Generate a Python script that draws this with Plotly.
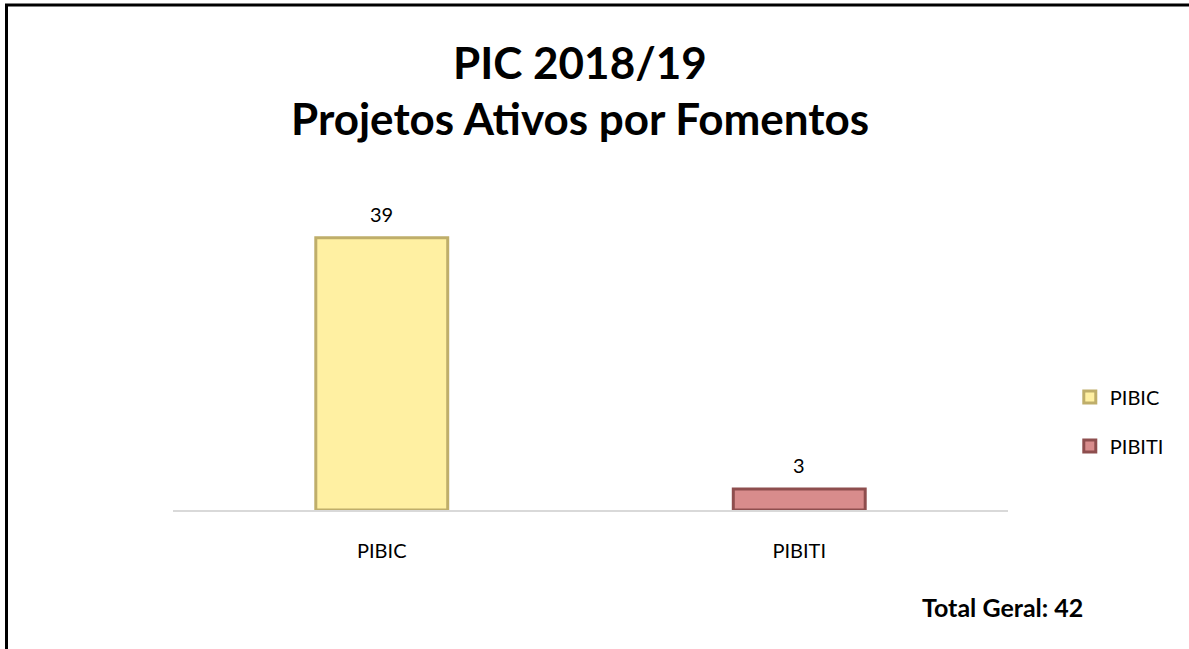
import plotly.graph_objects as go

categories = ["PIBIC", "PIBITI"]
values = [39, 3]
fill_colors = ["#FFF0A2", "#D88C8C"]
edge_colors = ["#BFAE6A", "#8E4E4E"]
total_label = "Total Geral: 42"
title_lines = ["PIC 2018/19", "Projetos Ativos por Fomentos"]

FONT = "Lato, Open Sans, sans-serif"

fig = go.Figure()
for i, (cat, val) in enumerate(zip(categories, values)):
    fig.add_trace(go.Bar(
        x=[cat], y=[val], name=cat, width=0.316,
        marker=dict(color=fill_colors[i], line=dict(color=edge_colors[i], width=3)),
        legendgroup=cat, cliponaxis=False,
    ))

annotations = []
for cat, val in zip(categories, values):
    annotations.append(dict(text=str(val), x=cat, y=val, xref="x", yref="y",
                            xanchor="center", yanchor="bottom", yshift=10, showarrow=False,
                            font=dict(size=20, color="#000000", family=FONT)))

for txt, ypos in zip(title_lines, [1.427, 1.250]):
    annotations.append(dict(text="<b>" + txt + "</b>", xref="paper", yref="paper",
                            x=0.487, y=ypos, xanchor="center", yanchor="middle",
                            showarrow=False,
                            font=dict(size=44, color="#000000", family=FONT)))

annotations.append(dict(text="<b>" + total_label + "</b>", xref="paper", yref="paper",
                        x=1.092, y=-0.309, xanchor="right", yanchor="middle", showarrow=False,
                        font=dict(size=25, color="#000000", family=FONT)))

fig.update_layout(
    width=1189, height=649,
    barmode="overlay",
    paper_bgcolor="white", plot_bgcolor="white",
    margin=dict(l=173, r=181, t=196, b=139),
    showlegend=True,
    legend=dict(x=1.074, y=0.282, xanchor="left", yanchor="middle",
                font=dict(size=20, color="#000000", family=FONT),
                tracegroupgap=20, itemwidth=30, bgcolor="rgba(0,0,0,0)"),
    xaxis=dict(range=[-0.5, 1.5], showline=True, linecolor="#D9D9D9", linewidth=2,
               ticks="", ticklabelstandoff=22,
               tickfont=dict(size=20, color="#000000", family=FONT),
               showgrid=False, zeroline=False),
    yaxis=dict(range=[0, 45], visible=False, showgrid=False, zeroline=False),
    shapes=[dict(type="rect", xref="paper", yref="paper",
                 x0=-0.1994, x1=1.224, y0=-0.48, y1=1.608,
                 line=dict(color="#000000", width=3), layer="below")],
    annotations=annotations,
)

fig.write_html("out.html", config={"displayModeBar": False},
               post_script="document.body.style.margin='0';")
